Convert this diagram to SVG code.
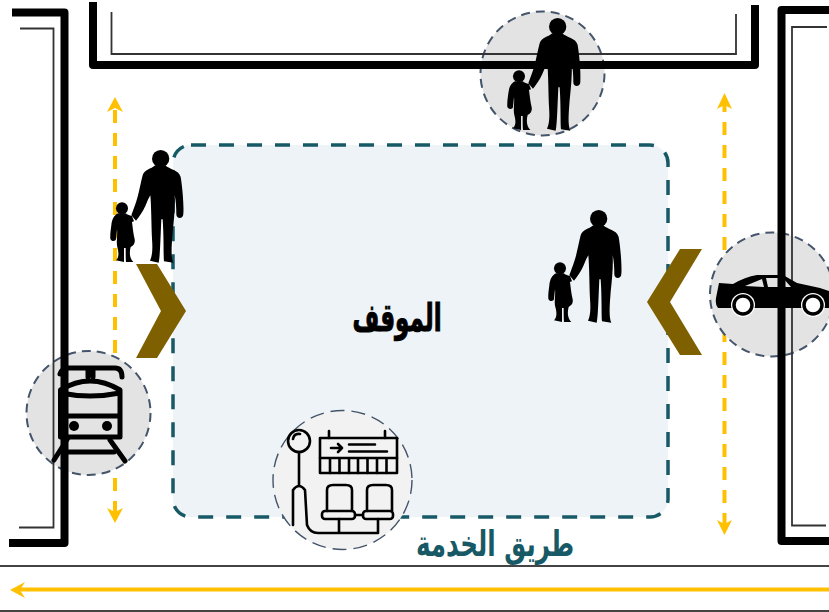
<svg xmlns="http://www.w3.org/2000/svg" width="829" height="612" viewBox="0 0 829 612">
<style>
.wall{fill:none;stroke:#000;stroke-width:8;stroke-linejoin:round}
.thin{fill:none;stroke:#333;stroke-width:1.8}
.road{fill:none;stroke:#444;stroke-width:2}
.yl{fill:none;stroke:#FFC000;stroke-width:4;stroke-dasharray:13 10}
.disc{fill:#E3E3E3;stroke:#44546A;stroke-width:2;stroke-dasharray:9 6}
.ic{fill:none;stroke:#000;stroke-width:2.6;stroke-linecap:round;stroke-linejoin:round}
.tr{fill:none;stroke:#000;stroke-width:5;stroke-linecap:round;stroke-linejoin:round}
.chev{fill:#7F6000}
.ar{font-family:"DejaVu Sans",sans-serif;font-weight:700;direction:rtl;text-anchor:middle}
</style>
<defs>
<symbol id="people" overflow="visible">
<g transform="scale(.3333) translate(-110,-54)">
<circle cx="262" cy="80" r="26"/>
<path d="M246,100 C232,112 214,112 208,130 C202,152 197,185 189,208 C183,226 178,238 174,250 L188,266 C198,254 208,240 216,222 C222,208 226,198 231,190 C234,225 234,270 236,320 C238,345 238,370 230,386 L256,392 C260,375 261,330 264,262 L268,262 C272,320 270,370 272,388 L300,392 C292,375 295,340 298,300 C302,262 306,225 304,190 C308,208 309,228 309,246 C308,262 330,262 330,246 C332,225 328,170 322,135 C316,113 288,113 276,100 Z"/>
<circle cx="146" cy="229" r="18"/>
<path d="M134,244 C122,250 116,262 114,280 C112,295 110,310 111,320 C114,330 128,328 128,320 L131,292 C133,312 128,330 132,345 C136,360 138,375 128,385 L152,390 L152,348 L157,348 C157,365 157,380 158,390 L180,390 C168,378 168,360 172,345 C180,340 186,335 184,322 C180,305 178,285 176,270 L182,268 L176,252 C168,250 160,248 158,244 Z"/>
</g>
</symbol>
</defs>
<rect width="829" height="612" fill="#fff"/>
<g id="connectors">
<path class="yl" d="M115,514 V100"/>
<path d="M115,97 L123,112 L115,108 L107,112 Z" fill="#FFC000"/>
<path d="M115,523 L107,508 L115,512 L123,508 Z" fill="#FFC000"/>
<path class="yl" d="M724.500,526 V96"/>
<path d="M724.500,93 L732,109 L724.500,105 L717,109 Z" fill="#FFC000"/>
<path d="M724.500,535 L717,520 L724.500,524 L732,520 Z" fill="#FFC000"/>
<path d="M829,589.500 H20" fill="none" stroke="#FFC000" stroke-width="4"/>
<path d="M10,590 L25,582 L20,590 L25,598 Z" fill="#FFC000"/>
</g>
<g id="parking">
<rect x="173" y="145" width="495" height="372" rx="18" fill="#EDF3F6" stroke="#175A66" stroke-width="3.500" stroke-dasharray="15 13"/>
<text class="ar" transform="translate(397,331) scale(.66,1.1)" font-size="35" fill="#000" stroke="#000" stroke-width="1">الموقف</text>
</g>
<g id="chevron-left"><polygon class="chev" points="136,264 157,264 186,311 157,358 136,358 161,311"/></g>
<g id="chevron-right"><polygon class="chev" points="680,249 702,249 670,302 702,355 680,355 647,302"/></g>
<g id="train-disc"><circle class="disc" cx="88.500" cy="413" r="62"/></g>
<g id="person-disc"><circle class="disc" cx="542.500" cy="73.500" r="62"/></g>
<g id="car-disc"><circle class="disc" cx="772" cy="294.500" r="62"/></g>
<g id="walls">
<path class="wall" d="M12,12.500 H64.500 V543 H9"/>
<path class="thin" d="M20,28.500 H53.500 V527.500 H19"/>
<path class="wall" d="M93,2 V65 H755 V5"/>
<path class="thin" d="M111.500,12 V54 H736 V14"/>
<path class="wall" d="M829,10 H781.500 V541 H829"/>
<path class="thin" d="M827,27 H792 V525.500 H826"/>
<path class="road" d="M0,566 H829"/>
<path class="road" d="M0,611 H829"/>
</g>
<g id="stop">
<circle cx="342.500" cy="480" r="69.500" fill="#F2F2F2" stroke="#44546A" stroke-width="1.400" stroke-dasharray="14 7"/>
<rect class="ic" x="320" y="438" width="77" height="35"/>
<path class="ic" d="M329,431 V438 M385,431 V438 M320,458 H397 M330,458 V473 M339.500,458 V473 M349,458 V473 M358,458 V473 M367.500,458 V473 M377,458 V473 M386.500,458 V473 M331,448 H342 M338,444 L342,448 L338,452 M349,444.500 H375 M349,451.500 H387"/>
<circle class="ic" cx="299" cy="441" r="11"/>
<path class="ic" d="M299,452 V485 M293,525 V490 Q299,482 305,490 L307,525 Q310,533 318,533 H378 M339,519 V533 M378,519 V533 M293,439 Q294,433 300,434"/>
<path class="ic" d="M327,511 V490 Q327,485 333,485 H346 Q352,485 352,490 V511 M367,511 V490 Q367,485 373,485 H386 Q392,485 392,490 V511 M355,515 H363"/>
<rect class="ic" x="322" y="511" width="33" height="8" rx="3"/>
<rect class="ic" x="363" y="511" width="30" height="8" rx="3"/>
</g>
<g id="train">
<path class="tr" d="M60,374 Q62,368 68,368 H115 Q122,368 122,377 M88,369 V377 M93,369 V377"/>
<path class="tr" d="M60.500,437 V390 Q90,372 120,390 V437 Z M60.500,393 Q90,399 120,393 M60.500,416 H120"/>
<circle cx="74" cy="426" r="5"/><circle cx="107" cy="426" r="5"/>
<path class="tr" d="M68,438 L54,460 M110,440 L125,461 M62,452 H114"/>
</g>
<g id="car">
<path fill-rule="evenodd" d="M719,283 L733,284 Q745,277 757,275 H783 L797,283 L820,288 L829,291 V308 H718 Q715,305 716,298 Z M745,286 L762,279 L764,287 Z M766,278 H783 L791,287 H768 Z"/>
<circle cx="743" cy="305" r="12" fill="#fff"/>
<circle cx="813" cy="305" r="12" fill="#fff"/>
<circle cx="743" cy="305" r="9" fill="#fff" stroke="#000" stroke-width="3.500"/>
<circle cx="813" cy="305" r="9" fill="#fff" stroke="#000" stroke-width="3.500"/>
</g>
<g id="person-top"><use href="#people" x="507" y="18"/></g>
<g id="person-left"><use href="#people" x="110" y="150"/></g>
<g id="person-right"><use href="#people" x="548" y="210"/></g>
<g id="road-label"><text class="ar" transform="translate(495,556) scale(.82,1.2)" font-size="30" fill="#175A66">طريق الخدمة</text></g>
</svg>
